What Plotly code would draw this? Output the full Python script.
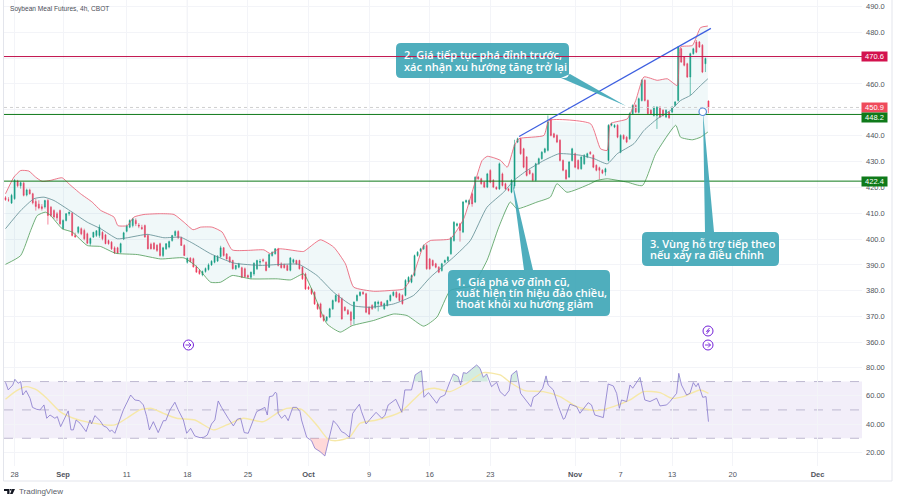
import plotly.graph_objects as go

# ---------- candles (4h bars) ----------
opens = [416.0,415.2,413.9,415.6,422.5,420.6,421.6,417.0,419.0,417.5,
414.5,413.5,412.5,412.4,414.9,412.3,411.0,409.8,411.0,404.0,
407.2,409.8,410.0,401.4,402.6,404.0,403.3,402.0,398.3,400.8,
401.4,401.4,402.6,401.6,399.4,398.8,396.6,396.6,394.9,400.0,
403.0,404.6,405.2,407.2,405.4,404.5,405.2,401.4,398.0,398.4,
397.6,398.2,393.6,396.2,396.9,399.4,401.4,402.9,400.5,397.5,
391.0,392.6,392.4,389.2,387.8,386.2,387.4,388.2,390.0,391.0,
391.5,393.2,396.6,394.2,393.0,391.7,388.5,389.1,388.9,388.5,
385.9,385.2,386.5,388.5,391.0,392.0,391.0,389.1,393.6,394.3,
396.2,390.4,390.1,389.8,387.9,391.0,391.7,391.7,389.1,386.5,
381.4,380.7,379.4,374.9,374.9,370.4,368.5,369.8,373.0,376.0,
378.2,376.9,373.6,372.4,371.7,369.1,376.2,378.2,379.4,378.8,
373.6,374.3,373.6,375.0,375.6,373.0,374.3,376.2,378.2,379.4,
378.8,378.2,378.2,383.3,383.3,385.9,393.6,395.3,396.2,397.5,
392.3,391.7,390.4,389.1,387.8,391.0,391.7,394.3,399.4,405.2,
405.9,402.7,414.3,413.6,417.5,414.3,424.0,423.3,422.0,420.1,
426.5,422.7,420.0,419.4,425.2,421.4,419.4,418.1,420.5,437.5,
438.8,434.9,431.7,426.6,425.3,422.7,429.1,431.1,433.6,434.3,
446.2,440.7,440.1,438.2,430.4,426.6,424.0,430.4,433.0,430.4,
427.2,429.1,431.7,433.6,432.4,428.5,427.6,426.6,425.9,430.4,
444.0,443.3,444.0,433.6,440.1,439.4,438.8,448.5,451.7,449.0,
453.6,461.4,453.6,449.8,447.8,447.8,451.0,449.8,447.2,449.1,
449.1,451.7,453.6,473.6,470.4,467.8,462.7,471.7,476.2,476.2,475.0,467.8,453.4]
highs = [416.6,416.2,417.5,423.2,422.9,422.2,422.2,419.5,419.5,417.9,
415.5,415.0,413.5,415.2,415.5,412.8,411.5,410.5,411.4,407.6,
410.0,410.6,410.4,402.5,405.0,404.5,404.0,402.5,400.6,402.8,
403.4,405.6,403.0,402.0,399.8,399.2,397.2,397.0,398.6,402.8,
405.6,407.6,408.2,408.0,406.2,405.5,405.6,402.0,398.6,398.8,
398.0,398.6,397.0,398.4,399.4,401.6,403.4,403.4,401.0,398.0,
392.8,393.0,392.8,389.8,388.4,387.8,389.0,390.6,391.8,393.8,
393.8,397.4,396.9,394.6,393.4,392.0,390.0,390.8,389.3,389.0,
386.3,387.4,391.0,392.0,392.3,392.5,391.4,394.4,395.2,396.5,
396.6,391.0,390.5,390.2,393.0,392.4,392.0,392.0,389.5,387.0,
381.9,381.1,379.8,375.3,375.4,370.9,370.2,373.4,376.6,378.6,
379.0,377.4,374.0,372.9,372.2,375.9,378.6,379.8,379.8,379.2,
374.0,374.8,376.0,376.2,376.0,375.4,376.5,378.6,379.8,379.8,
379.2,378.6,384.5,385.6,386.3,394.0,395.3,396.6,397.9,398.0,
392.7,392.1,390.8,389.5,390.8,392.1,393.4,400.9,406.9,406.3,
406.3,414.7,415.3,415.3,418.0,424.3,424.4,423.7,422.4,425.6,
427.0,423.2,420.4,429.6,425.7,421.8,419.8,423.1,438.4,439.2,
439.2,435.3,432.1,427.0,425.7,429.5,431.5,434.0,435.3,447.8,
447.0,441.1,440.5,438.6,430.8,427.0,430.2,435.3,433.4,430.8,
432.1,432.8,433.4,434.0,432.8,428.9,428.0,427.0,427.6,444.4,
445.0,444.4,444.4,440.5,440.5,439.8,449.0,452.1,452.1,454.7,
461.8,461.8,454.0,450.2,451.4,451.4,451.4,450.2,450.2,449.5,
451.4,453.4,474.6,474.0,470.8,468.2,472.1,474.0,477.0,476.6,475.4,470.2,453.6]
lows = [414.8,414.4,413.6,415.2,420.0,419.5,416.5,416.5,417.2,413.4,
411.0,411.5,411.0,411.8,405.6,408.5,407.8,407.0,405.5,403.8,
406.8,409.0,401.0,400.5,402.0,401.5,399.5,398.0,397.4,400.4,
400.8,400.5,399.5,398.0,397.8,395.8,394.2,394.2,394.5,399.6,
402.6,404.2,404.5,405.0,404.2,403.5,400.5,396.0,396.0,395.8,
395.0,393.2,393.0,395.8,396.4,399.0,401.0,400.0,397.4,393.5,
390.5,391.0,389.0,387.0,386.2,385.6,387.0,387.8,389.6,390.6,
391.1,392.8,393.2,392.0,390.8,388.2,388.0,388.7,384.9,385.0,
385.0,384.5,385.8,388.0,389.5,391.0,387.5,388.8,393.2,394.0,
389.4,388.6,388.6,387.6,387.5,390.6,390.0,388.2,384.2,380.3,
380.3,378.4,374.5,372.6,369.4,368.0,368.0,369.4,372.6,375.6,
375.2,368.8,372.0,370.6,366.5,367.0,375.8,377.8,378.4,371.3,
370.6,372.6,373.0,372.0,374.0,372.6,373.9,375.8,377.8,377.1,
375.8,374.6,377.8,382.8,382.9,385.5,393.2,394.9,395.8,388.1,
388.1,389.4,388.7,386.8,387.4,390.6,391.3,393.9,399.0,404.8,
399.0,402.3,413.9,413.2,412.5,413.9,422.9,421.0,419.7,419.7,
421.6,419.7,419.0,419.0,420.3,419.0,418.4,417.7,419.5,437.1,
432.6,427.4,424.2,424.9,422.3,422.3,428.7,430.7,433.2,433.9,
439.7,439.0,437.1,430.0,426.2,422.9,423.6,430.0,427.4,426.8,
426.8,428.7,431.3,432.6,427.4,426.2,423.0,425.1,424.5,430.0,
443.6,442.9,439.0,433.2,438.4,437.1,438.4,448.1,448.7,448.6,
453.2,453.2,448.1,448.1,447.4,442.6,446.8,447.4,446.8,446.5,
448.7,451.3,453.2,468.1,466.8,462.3,455.6,471.3,471.9,473.9,464.2,464.6,448.7]
closes = [415.2,415.0,416.9,422.7,420.6,421.8,416.9,419.0,417.5,414.0,
412.6,412.0,411.8,414.9,409.1,409.1,408.5,408.2,405.9,407.2,
409.8,410.4,401.4,400.8,404.6,402.0,400.1,398.4,400.2,402.6,
403.2,404.6,400.1,398.2,398.2,396.2,394.6,394.6,398.2,402.4,
405.0,407.2,407.8,405.9,405.0,404.0,400.8,396.2,396.2,396.2,
395.6,393.6,396.6,398.2,399.0,401.4,402.9,400.5,397.5,393.6,
392.6,391.2,389.2,387.2,386.6,387.4,388.6,390.0,391.4,393.4,
393.2,396.6,393.6,392.3,391.1,388.5,389.8,390.4,385.2,385.4,
385.2,387.2,390.6,391.7,391.3,391.6,387.8,394.0,394.9,396.2,
389.8,388.9,388.9,387.9,392.7,392.0,390.4,388.5,384.6,380.7,
380.7,378.8,374.9,373.0,369.8,368.5,369.8,373.0,376.2,378.2,
375.6,369.1,372.4,371.0,368.5,375.6,378.2,379.4,378.8,371.7,
371.0,373.0,375.6,375.6,374.3,375.0,376.2,378.2,379.4,377.5,
376.2,375.0,384.0,385.2,385.9,393.6,394.9,396.2,397.5,388.5,
388.5,389.8,389.1,387.2,390.4,391.7,393.0,400.5,406.5,405.9,
403.3,414.3,414.9,414.9,413.6,423.9,423.3,421.4,420.1,425.2,
422.0,420.1,419.4,429.1,420.7,419.4,418.8,422.7,436.5,438.8,
433.0,427.8,424.6,425.3,422.7,429.1,431.1,433.6,434.9,445.3,
440.1,439.4,437.5,430.4,426.6,423.3,429.8,434.9,427.8,427.2,
431.7,432.4,433.0,433.0,427.8,426.6,426.6,425.5,427.2,444.0,
444.6,444.0,439.4,440.1,438.8,437.5,448.5,451.7,449.1,454.3,
461.4,453.6,448.5,448.5,451.0,451.0,447.2,447.8,449.8,446.9,
451.0,453.0,474.3,468.5,467.2,462.7,471.7,473.6,472.3,474.3,464.6,469.8,450.9]

# ---------- Bollinger bands: bar position and value of each vertex ----------
upper_bar = [0,2.8,5,7.7,9.9,12.1,14.9,18.7,20.9,24.8,28.6,31.4,35.8,37.1,40.2,42.4,45.7,51.2,55.6,58.9,61.9,64.4,68.2,71.5,74.8,79.8,85.3,87.5,90.2,96.8,98.4,103.9,108.3,112.2,114.9,121.5,127,131.4,134.7,138,140.2,146.8,151.2,154.5,157.3,159,161,163.4,165.6,167.8,169.4,177.7,179.4,193.1,196.4,198.6,199.7,205.2,208,210.7,215.1,218.4,221.7,222.8,226.7,229.4,231.8]
upper_val = [417.5,424,426.5,426.3,424,422.3,422.7,423.7,421.4,417.5,414.3,411.1,408.5,405.2,405.2,408.5,409.5,409.8,409.5,406.5,403.6,404.6,404.6,402.7,395.8,395.6,395.8,394.3,396.2,395.3,395.2,399.7,396.9,390.4,381.4,379.8,380.1,380.7,386.5,397.5,399.4,400.1,407.8,420.1,430.4,432,431.5,430.4,427.8,435.6,438.8,440.1,445.9,444.6,434.9,434.3,444.6,446.5,453.6,462.7,461.4,462,459.4,474.3,474.9,481.8,482.4]
basis_bar = [0,5,9.4,12.7,16,22,27,31.4,36.9,40.2,46.8,52.3,57.8,62.2,67.7,75.4,84.2,90.8,96.8,102.8,108.3,114.4,120.4,128.1,134.7,140.2,147.9,153.4,158.9,164.4,167.8,172.2,177.7,182.7,189.8,194.2,198.6,201.9,207.4,210.7,215.1,219.5,222.8,226.1,229.4,231.8]
basis_val = [404,411,415.6,416.2,414.9,410.4,406.5,404,400.1,400.5,401.8,400.5,400.7,398.1,394.3,390.7,389.8,390.2,390.2,385.9,379.4,374.3,373.6,374.9,378.2,385.2,393,399.4,412.3,418.1,422.7,426.6,430.4,433,432.4,431.1,429.1,433,436.9,442,446.5,449.8,453.6,455.6,459.4,462]
lower_bar = [0,5,8.3,10.5,13.2,14.9,18.7,22,27,31.4,36.3,43.5,51.2,58.9,63.3,67.7,71,74.8,80.9,89.7,94.1,98.4,101.7,106.1,110.5,114.4,121.5,128.1,132.5,138,142.4,146.8,154,158.9,162.8,166.6,168.8,175.4,179.8,182,185.3,193,195.3,198.6,205.2,210.2,214.6,221.2,222.8,226.7,229.4,231.8]
lower_val = [390.2,393.6,403.3,409.1,410.4,409.1,404,402.7,397.5,397.1,394.5,394,392.3,392.7,389.1,383.3,383.3,385.9,384.6,384.6,384.2,386.5,378.8,367.2,364,366.5,368.5,371,370.4,366.3,369.8,380.1,382,391.7,404.6,414.3,411.7,414.3,416.2,421.4,418.1,421.4,422.7,423.3,422,420.7,433,444,439.4,438.4,439.4,441.4]

# ---------- RSI and its moving average ----------
rsi_bar = [0,0.9,2.4,3.1,4.2,5,5.7,6.8,8.1,8.9,10.3,11.4,12.7,13.6,14.7,16.3,17.1,18.2,20.7,21.6,22.4,23.3,24.6,26.6,27.9,28.4,29.5,31.2,32.3,33.4,34.5,35,36.1,38.9,41.3,42.7,44.2,45.5,46.6,47.5,48.8,50.4,52.1,52.9,54.3,55.9,57,58.7,59.8,61.1,62.5,64.2,65.5,66.6,68,69.1,70.2,71.3,73.5,75.2,76.5,77.6,78.8,80.1,81.8,82.9,85.6,86.4,87.1,88.2,89,89.5,90,91.1,92.2,93.3,94.8,96.1,97.2,97.7,99.4,101,102.1,103.8,105.4,106.5,108.2,109.5,110.9,112,113.5,114.6,116.8,117.5,119,120.3,122.3,124.2,125.2,126.3,128.8,130.8,131.8,134,135.2,137.3,138.1,139.6,142.3,143.4,145,146.7,147.8,149.4,150.2,151.1,152.2,153.8,155.5,156.6,157.7,158.8,160.4,162.1,163.2,164.8,166.2,167,168.7,170,171.4,173.4,174.2,175.8,177.3,178.4,179.1,180.8,182.5,184.1,184.6,186.3,188.5,189.6,192.3,193.4,194.5,197.3,198.9,200.6,201.7,202.6,203.3,205,206.1,207,209.4,211,212.7,214.9,216,218.2,219.3,221.5,222.2,223.1,224.8,225.9,227,227.9,228.6,230.1,231.2,232]
rsi_val = [69.5,64.1,67.6,71.6,68.8,70,60.5,63.6,58.2,51.8,50.4,50,53.5,44.1,46.4,44.1,45.3,38.2,49.3,35.9,35.9,42.9,40.6,34.7,42.9,40.1,46,42.4,38.7,37.7,34.7,35.9,33.5,50,60.5,57,56.5,53.5,45.3,35.9,41.7,34,42.4,42.4,50,55.4,50,42.9,33.5,37,31.6,30.4,30.7,32.3,40.1,42.9,56.3,51.8,44.1,38.7,43.4,44.1,34,33.5,42.9,48.8,51.8,46.4,59.4,59.8,62.4,61.7,47.6,44.1,46.4,42.4,51.8,51.8,48.8,42.9,30.7,28.3,22.9,20.6,17.5,27.6,42.4,39.4,34.7,33.5,30.7,47.6,54,48.8,40.1,43.4,48.3,44.1,46,53.5,57.5,48.3,64.1,64.1,74.7,77.7,58.9,62.2,54.7,58.9,60.5,70,75.4,73.5,67.6,76.3,75.8,78.7,81.7,79.4,73,75.4,66.4,69.5,62.9,59.8,63.6,74.7,77.7,61.7,57.5,52.3,58.9,61.3,65.3,74,67.6,64.1,52.3,43.4,44.1,54,52.3,47.6,55.1,53.5,46.4,44.6,68.3,66.9,61.7,51.1,57,55.9,67.6,65.3,73,57,55.9,58.2,52.8,53.5,55.9,61.7,75.8,67.6,60.5,61.7,69.3,66.4,68.8,58.9,59.4,41.7]
rsi_ma_bar = [0,3.7,7,10.3,13.6,18,22.4,27.9,36.1,40,44.4,48.2,52.1,56.5,62.5,68.6,73,78.5,85.1,89.5,92.8,97.7,102.7,106.5,109.3,113.5,117,122.5,130.2,134.6,138.4,141.7,146.7,152.2,157.7,163.2,167,171.4,177.5,183,188.5,195.1,200.6,206.1,210.5,216,219.9,223.7,229.2,232]
rsi_ma_val = [57.5,63.6,66.4,64.1,58.2,48.8,44.1,41,39.4,44.1,50,51.1,47.6,44.1,42.9,35.9,39.4,44.1,41.7,47.6,51.1,50.4,39.4,29.3,28.3,30.7,40.6,42.9,48.3,57,64.1,65.3,62.9,68.8,76.3,74.7,68.8,63.6,62.9,59.4,52.3,49.5,52.3,57,62.9,62.2,58.2,59.4,64.1,61.7]

# ---------- levels, axes, labels ----------
resistance = 470.6
supports = [448.2, 422.4]
last_price = 450.9
trend_bar = [169.5, 232.8]
trend_val = [439.7, 481.5]
rsi_bands = [70, 50, 30]
price_ticks = [490,480,470,460,450,440,430,420,410,400,390,380,370,360]
price_hidden = [470, 450]   # these labels sit behind the price tags in the reference
rsi_ticks = [80,60,40,20]
date_ticks = [3,19,40,60,80,100,120,140,160,188,203,220,240,268]
date_labels = ["28","<b>Sep</b>","11","18","25","<b>Oct</b>","9","16","23","<b>Nov</b>","7","13","20","<b>Dec</b>"]
title_text = "Soybean Meal Futures, 4h, CBOT"
callout1 = ["1. Giá phá vỡ đỉnh cũ,", "xuất hiện tín hiệu đảo chiều,", "thoát khỏi xu hướng giảm"]
callout2 = ["2. Giá tiếp tục phá đỉnh trước,", "xác nhận xu hướng tăng trở lại"]
callout3 = ["3. Vùng hỗ trợ tiếp theo", "nếu xảy ra điều chỉnh"]

W, H = 900, 500
BAR0, BAR_W = 5.5, 3.03
LEFT, RIGHT, PANE_BOTTOM = 4, 862, 466
AXFONT = "Liberation Sans"
TEAL = "rgba(60,165,182,0.9)"
px = lambda x: x / W
py = lambda y: 1 - y / H
GRID = "#F3F4F8"
x_range = [(LEFT - BAR0) / BAR_W, (RIGHT - BAR0) / BAR_W]
bars = list(range(len(closes)))

def rpath(x0, y0, x1, y1, r=5, wedge=None):
    """Rounded rectangle in page pixels, optionally joined with a pointer wedge."""
    pts = f"M{px(x0+r)},{py(y0)} L{px(x1-r)},{py(y0)} Q{px(x1)},{py(y0)} {px(x1)},{py(y0+r)} L{px(x1)},{py(y1-r)} Q{px(x1)},{py(y1)} {px(x1-r)},{py(y1)} L{px(x0+r)},{py(y1)} Q{px(x0)},{py(y1)} {px(x0)},{py(y1-r)} L{px(x0)},{py(y0+r)} Q{px(x0)},{py(y0)} {px(x0+r)},{py(y0)} Z"
    if wedge:
        pts += " M" + " L".join(f"{px(a)},{py(b)}" for a, b in wedge) + " Z"
    return pts

fig = go.Figure()

# Bollinger fill and lines
fig.add_trace(go.Scatter(x=upper_bar + lower_bar[::-1], y=upper_val + lower_val[::-1], fill="toself",
                         fillcolor="rgba(40,150,165,0.07)", line=dict(width=0), mode="lines", hoverinfo="skip"))
fig.add_trace(go.Scatter(x=upper_bar, y=upper_val, mode="lines", line=dict(color="#E8566C", width=0.8, shape="spline", smoothing=0.5)))
fig.add_trace(go.Scatter(x=basis_bar, y=basis_val, mode="lines", line=dict(color="#5D8A90", width=0.8, shape="spline", smoothing=0.5)))
fig.add_trace(go.Scatter(x=lower_bar, y=lower_val, mode="lines", line=dict(color="#4C9A55", width=0.8, shape="spline", smoothing=0.5)))

# Candles
fig.add_trace(go.Candlestick(x=bars, open=opens, high=highs, low=lows, close=closes,
                             increasing=dict(line=dict(color="#119C80", width=0.6), fillcolor="#119C80"),
                             decreasing=dict(line=dict(color="#F0385A", width=0.6), fillcolor="#F0385A"),
                             whiskerwidth=0))

# Levels
fig.add_trace(go.Scatter(x=x_range, y=[last_price] * 2, mode="lines", line=dict(color="#CFCFCF", width=1, dash="dot")))
for s in supports:
    fig.add_trace(go.Scatter(x=x_range, y=[s] * 2, mode="lines", line=dict(color="#0F7A1A", width=1)))
fig.add_trace(go.Scatter(x=trend_bar, y=trend_val, mode="lines", line=dict(color="#3D5FE0", width=1.2)))

# RSI overbought / oversold shading, built from the RSI points themselves
def runs(test):
    out, cur = [], []
    for b, v in zip(rsi_bar, rsi_val):
        if test(v):
            cur.append((b, v))
        elif cur:
            out.append(cur); cur = []
    if cur:
        out.append(cur)
    return out
for level, test, col in ((30, lambda v: v < 30, "rgba(255,82,82,0.22)"), (70, lambda v: v > 70, "rgba(60,170,120,0.22)")):
    for run in runs(test):
        xs = [run[0][0] - 0.4] + [p[0] for p in run] + [run[-1][0] + 0.4]
        ys = [level] + [p[1] for p in run] + [level]
        fig.add_trace(go.Scatter(x=xs, y=ys, fill="toself", fillcolor=col, line=dict(width=0), mode="lines", yaxis="y2"))

fig.add_trace(go.Scatter(x=rsi_ma_bar, y=rsi_ma_val, mode="lines", yaxis="y2", line=dict(color="#F6E8A8", width=1.4, shape="spline", smoothing=0.6)))
fig.add_trace(go.Scatter(x=rsi_bar, y=rsi_val, mode="lines", yaxis="y2", line=dict(color="#8577CC", width=0.8)))

shapes = []
# RSI band and dashes
shapes.append(dict(type="rect", xref="x domain", yref="y2", x0=0, x1=1, y0=rsi_bands[2], y1=rsi_bands[0],
                   fillcolor="rgba(126,87,194,0.10)", line=dict(width=0), layer="below"))
for b in rsi_bands:
    shapes.append(dict(type="line", xref="x domain", yref="y2", x0=0, x1=1, y0=b, y1=b,
                       line=dict(color="#BDB8D0", width=1, dash="dash"), layer="below"))
# marker guide line
shapes.append(dict(type="line", xref="x", yref="paper", x0=date_ticks[3], x1=date_ticks[3], y0=py(PANE_BOTTOM), y1=1,
                   line=dict(color="#E3E4EA", width=1), layer="below"))
# chart frame
for x0, y0, x1, y1 in ((3.5, 0, 3.5, 481), (3.5, 481, 892, 481), (892, 0, 892, 481)):
    shapes.append(dict(type="line", xref="paper", yref="paper", x0=px(x0), x1=px(x1), y0=py(y0), y1=py(y1),
                       line=dict(color="#E3E5EC", width=1)))
# callouts
shapes.append(dict(type="path", xref="paper", yref="paper", fillcolor=TEAL, line=dict(width=0), layer="above",
                   path=rpath(448, 270, 610, 316, wedge=[(512, 180), (533, 270), (524, 270)])))
shapes.append(dict(type="path", xref="paper", yref="paper", fillcolor=TEAL, line=dict(width=0), layer="above",
                   path=rpath(396, 43, 569, 78, wedge=[(626, 106), (570, 74), (561, 78)])))
shapes.append(dict(type="path", xref="paper", yref="paper", fillcolor=TEAL, line=dict(width=0), layer="above",
                   path=rpath(642, 232, 779, 266, wedge=[(703, 112), (714, 232), (705, 232)])))
# the resistance line runs over the second callout
shapes.append(dict(type="line", xref="x domain", yref="y", x0=0, x1=1, y0=resistance, y1=resistance,
                   line=dict(color="#C2144E", width=1), layer="above"))
# anchor handle on the third callout
shapes.append(dict(type="circle", xref="paper", yref="paper", x0=px(699), x1=px(706.5), y0=py(108), y1=py(115.5),
                   fillcolor="white", line=dict(color="#5B8FD9", width=1.2), layer="above"))
# event icons
ICON = "#7422D8"
for cx, cy in ((188.5, 345), (708, 345)):
    shapes.append(dict(type="circle", xref="paper", yref="paper", x0=px(cx-5), x1=px(cx+5), y0=py(cy-5), y1=py(cy+5),
                       line=dict(color=ICON, width=1), fillcolor="white", layer="above"))
    shapes.append(dict(type="path", xref="paper", yref="paper", line=dict(color=ICON, width=0.9), layer="above",
                       path=f"M{px(cx-3)},{py(cy)} L{px(cx+2.5)},{py(cy)} M{px(cx)},{py(cy-2.5)} L{px(cx+2.5)},{py(cy)} L{px(cx)},{py(cy+2.5)}"))
cx, cy = 708, 331
shapes.append(dict(type="circle", xref="paper", yref="paper", x0=px(cx-5), x1=px(cx+5), y0=py(cy-5), y1=py(cy+5),
                   line=dict(color=ICON, width=1), fillcolor="white", layer="above"))
shapes.append(dict(type="path", xref="paper", yref="paper", line=dict(color=ICON, width=0.9), layer="above",
                   path=f"M{px(cx+1.5)},{py(cy-3)} L{px(cx-1.5)},{py(cy+0.5)} L{px(cx+1.5)},{py(cy-0.5)} L{px(cx-1.5)},{py(cy+3)}"))
# TradingView logo
shapes.append(dict(type="path", xref="paper", yref="paper", fillcolor="#131722", line=dict(width=0),
                   path=" ".join([
                       f"M{px(4)},{py(489)} L{px(9.5)},{py(489)} L{px(9.5)},{py(494)} L{px(7.2)},{py(494)} L{px(7.2)},{py(491)} L{px(4)},{py(491)} Z",
                       f"M{px(12.2)},{py(489)} L{px(15)},{py(489)} L{px(12.6)},{py(494)} L{px(10)},{py(494)} Z",
                       f"M{px(10)},{py(489)} L{px(11.6)},{py(489)} L{px(11.6)},{py(490.6)} L{px(10)},{py(490.6)} Z"])))

ann = []
def note(x, y, text, size, color, font=AXFONT, weight=None):
    f = dict(size=size, color=color, family=font)
    if weight:
        f["weight"] = weight
    ann.append(dict(xref="paper", yref="paper", x=px(x), y=py(y), text=text, showarrow=False, xanchor="left",
                    yanchor="middle", font=f))
note(8, 8.5, title_text, 6.6, "#4A4E57")
note(17, 491.5, "TradingView", 8, "#5A5E68")
CFONT = "Open Sans"
CSIZE = 11
for text, y in zip(callout1, (281, 292, 303.5)):
    note(454, y, text, CSIZE, "white", CFONT, 600)
for text, y in zip(callout2, (54.5, 66)):
    note(402, y, text, CSIZE, "white", CFONT, 600)
for text, y in zip(callout3, (243, 254)):
    note(648, y, text, CSIZE, "white", CFONT, 600)

def tag(value, color, shift=0):
    ann.append(dict(xref="paper", yref="y", x=px(874.2), y=value, yshift=shift, text=f"{value:.1f}", showarrow=False,
                    xanchor="center", yanchor="middle", width=25, height=9, borderpad=0, bgcolor=color,
                    font=dict(size=7.5, color="white", family=AXFONT)))
tag(resistance, "#D3124E")
tag(last_price, "#EF4A5B")
tag(supports[0], "#0F7A1A", -3.5)
tag(supports[1], "#0F7A1A")

# price axis spans page y 0..PANE_BOTTOM at 2.585 px per unit; RSI at 1.417 px per unit
P_TOP = 490 + 6 / 2.585 + 0.15
R_TOP = 80 + 367.4 / 1.417
fig.update_layout(
    width=W, height=H, margin=dict(l=0, r=0, t=0, b=0), showlegend=False, boxgap=0.55,
    paper_bgcolor="white", plot_bgcolor="white", shapes=shapes, annotations=ann,
    xaxis=dict(domain=[px(LEFT), px(RIGHT)], range=x_range, rangeslider=dict(visible=False), tickmode="array",
               tickvals=date_ticks, ticktext=date_labels, ticks="", showgrid=True, gridcolor=GRID, gridwidth=1,
               zeroline=False, showline=False, anchor="y", ticklabelstandoff=2,
               tickfont=dict(size=7.5, color="#50545D", family=AXFONT)),
    yaxis=dict(domain=[py(PANE_BOTTOM), 1], range=[P_TOP - PANE_BOTTOM / 2.585, P_TOP], side="right", tickmode="array",
               tickvals=price_ticks, ticktext=["" if v in price_hidden else f"{v:.1f}" for v in price_ticks],
               showgrid=True, gridcolor=GRID, zeroline=False, showline=False, ticks="", ticklabelstandoff=3,
               tickfont=dict(size=7.5, color="#50545D", family=AXFONT)),
    yaxis2=dict(domain=[py(PANE_BOTTOM), 1], range=[R_TOP - PANE_BOTTOM / 1.417, R_TOP], overlaying="y", side="right",
                tickmode="array", tickvals=rsi_ticks, ticktext=[f"{v:.2f}" for v in rsi_ticks], showgrid=True,
                gridcolor=GRID, zeroline=False, showline=False, ticks="", ticklabelstandoff=3,
                tickfont=dict(size=7.5, color="#50545D", family=AXFONT)),
)
fig.write_html("out.html", config=dict(displayModeBar=False), post_script="document.body.style.margin='0';")
